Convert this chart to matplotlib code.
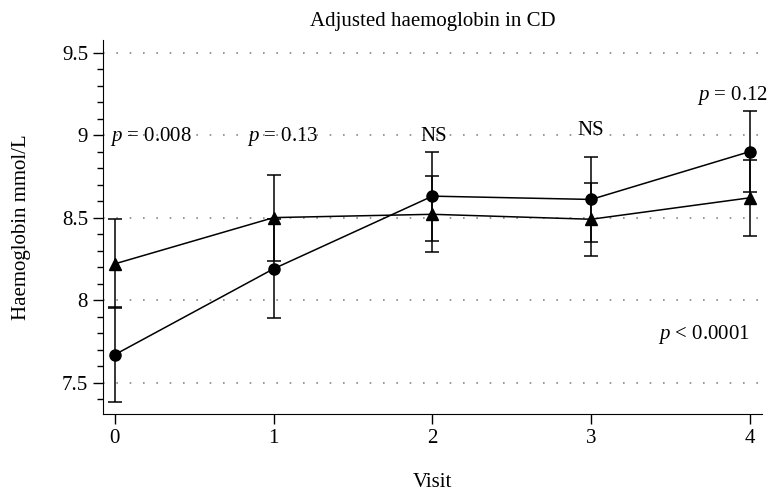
import numpy as np
import matplotlib.pyplot as plt
from matplotlib.ticker import MultipleLocator

# data
visits = [0, 1, 2, 3, 4]
hb_circle = [7.67, 8.19, 8.63, 8.61, 8.90]
err_circle = [0.29, 0.30, 0.27, 0.26, 0.245]
hb_triangle = [8.22, 8.50, 8.52, 8.49, 8.62]
err_triangle = [0.27, 0.26, 0.23, 0.22, 0.23]

# significance labels: (x, y, text, alignment)
labels = [(-0.03, 8.99, '$p$ = 0.008', 'left'),
          (1.06, 8.99, '$p$ = 0.13', 'center'),
          (2.01, 8.99, 'NS', 'center'),
          (3.00, 9.025, 'NS', 'center'),
          (3.89, 9.24, '$p$ = 0.12', 'center'),
          (4.00, 7.79, '$p$ < 0.0001', 'right')]

plt.rcParams['font.family'] = 'Liberation Serif'
plt.rcParams['mathtext.fontset'] = 'custom'
plt.rcParams['mathtext.it'] = 'Liberation Serif:italic'
plt.rcParams['mathtext.rm'] = 'Liberation Serif'

fig = plt.figure(figsize=(7.71, 4.95), dpi=100)
ax = fig.add_axes([0.1332, 0.1636, 0.8551, 0.7556])

for yv in [7.5, 8, 8.5, 9, 9.5]:
    ax.axhline(yv, color='#888888', lw=1.2, ls=(0, (1, 7)), zorder=0)

ax.errorbar(visits, hb_circle, yerr=err_circle, color='black', marker='o', ms=8,
            lw=1.1, elinewidth=1.1, capsize=5, capthick=1.1)
ax.errorbar(visits, hb_triangle, yerr=err_triangle, color='black', marker='^', ms=8,
            lw=1.1, elinewidth=1.1, capsize=5, capthick=1.1)

for x, y, t, ha in labels:
    ax.text(x, y, t, ha=ha, va='center', fontsize=15)

ax.set_xlim(-0.077, 4.076)
ax.set_ylim(7.31, 9.576)
ax.set_xticks(visits)
ax.set_yticks([7.5, 8, 8.5, 9, 9.5])
ax.set_yticklabels(['7.5', '8', '8.5', '9', '9.5'])
ax.yaxis.set_minor_locator(MultipleLocator(0.1))
ax.tick_params(axis='both', which='major', length=7, width=1, labelsize=15, direction='out')
ax.tick_params(axis='y', which='minor', length=4, width=1)
ax.spines['top'].set_visible(False)
ax.spines['right'].set_visible(False)

ax.set_title('Adjusted haemoglobin in CD', fontsize=15, pad=10)
ax.set_xlabel('Visit', fontsize=15, labelpad=18)
ax.set_ylabel('Haemoglobin mmol/L', fontsize=15, labelpad=22)

fig.savefig('out.png', dpi=100)
